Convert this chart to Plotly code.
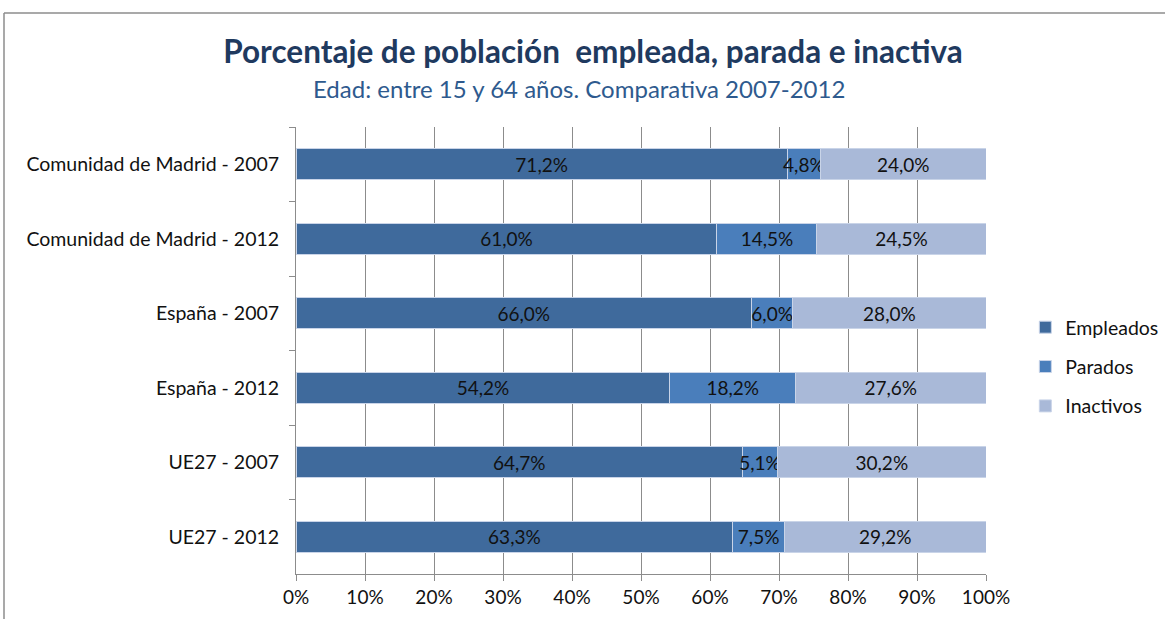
import plotly.graph_objects as go

# =====================================================
# DATA
# =====================================================

categorias = [
    "Comunidad de Madrid - 2007",
    "Comunidad de Madrid - 2012",
    "España - 2007",
    "España - 2012",
    "UE27 - 2007",
    "UE27 - 2012",
]

empleados = [71.2, 61.0, 66.0, 54.2, 64.7, 63.3]
parados = [4.8, 14.5, 6.0, 18.2, 5.1, 7.5]
inactivos = [24.0, 24.5, 28.0, 27.6, 30.2, 29.2]

x_ticks = [0, 10, 20, 30, 40, 50, 60, 70, 80, 90, 100]
x_labels = ["0%", "10%", "20%", "30%", "40%", "50%",
            "60%", "70%", "80%", "90%", "100%"]

series = [
    ("Empleados", empleados, "#3F6A9C"),
    ("Parados", parados, "#4A7EBB"),
    ("Inactivos", inactivos, "#A9B9D8"),
]

FONT = "Lato"

# =====================================================
# FIGURE
# =====================================================

fig = go.Figure()

for name, values, color in series:
    fig.add_trace(go.Bar(
        y=categorias,
        x=values,
        name=name,
        orientation="h",
        legendgroup=name,
        marker=dict(color=color, line=dict(color="#C9D4E8", width=1)),
        texttemplate="%{x:.1f}%",
        textposition="inside",
        insidetextanchor="middle",
        constraintext="none",
        textfont=dict(family=FONT, size=19, color="#111111"),
        hoverinfo="x+name",
    ))

fig.update_layout(
    width=1165,
    height=619,
    barmode="stack",
    bargap=0.59,
    separators=",.",
    paper_bgcolor="white",
    plot_bgcolor="white",
    margin=dict(l=296, r=179, t=127, b=45, autoexpand=False),
    font=dict(family=FONT, size=19, color="#111111"),
    title=dict(
        text="<b>Porcentaje de población  empleada, parada e inactiva</b>",
        font=dict(family=FONT, size=31.5, color="#1F3A5F"),
        xref="container",
        x=0.509,
        xanchor="center",
        yref="container",
        y=1 - 52 / 619,
        yanchor="middle",
    ),
    legend=dict(
        x=1.057,
        xanchor="left",
        y=(574 - 367) / 447,
        yanchor="middle",
        traceorder="grouped",
        tracegroupgap=11,
        font=dict(family=FONT, size=19.5, color="#111111"),
        bgcolor="rgba(0,0,0,0)",
    ),
    annotations=[
        dict(
            text="Edad: entre 15 y 64 años. Comparativa 2007-2012",
            xref="paper",
            yref="paper",
            x=(579 - 296) / 690,
            y=(574 - 88) / 447,
            xanchor="center",
            yanchor="middle",
            showarrow=False,
            font=dict(family=FONT, size=24, color="#2E5A8E"),
        )
    ],
    shapes=[
        dict(type="line", xref="paper", yref="paper",
             x0=(4 - 296) / 690, x1=(4 - 296) / 690,
             y0=-0.2, y1=(574 - 13) / 447,
             line=dict(color="#8C8C8C", width=1.5)),
        dict(type="line", xref="paper", yref="paper",
             x0=(4 - 296) / 690, x1=1.3,
             y0=(574 - 13) / 447, y1=(574 - 13) / 447,
             line=dict(color="#8C8C8C", width=1.5)),
    ],
)

fig.update_xaxes(
    range=[0, 100],
    tickvals=x_ticks,
    ticktext=x_labels,
    showgrid=True,
    gridcolor="#8C8C8C",
    gridwidth=1,
    showline=True,
    linecolor="#8C8C8C",
    linewidth=1,
    ticks="outside",
    ticklen=6,
    tickcolor="#8C8C8C",
    tickfont=dict(family=FONT, size=19, color="#111111"),
    zeroline=False,
    automargin=False,
    fixedrange=True,
)

fig.update_yaxes(
    autorange="reversed",
    showgrid=False,
    showline=True,
    linecolor="#8C8C8C",
    linewidth=1,
    ticks="outside",
    tickson="boundaries",
    ticklen=6,
    tickcolor="#8C8C8C",
    ticklabelstandoff=12,
    tickfont=dict(family=FONT, size=19.5, color="#111111"),
    automargin=False,
    fixedrange=True,
)

# the page's default body margin shifts the figure by 8px, drop it
fig.write_html(
    "out.html",
    config={"displayModeBar": False},
    post_script="document.body.style.margin='0';",
)
